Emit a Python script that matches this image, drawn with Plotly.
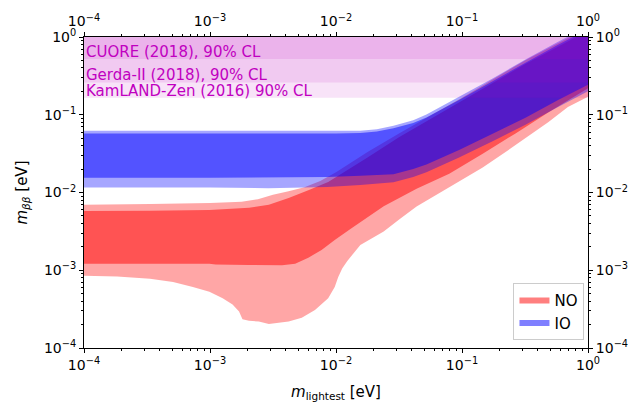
import numpy as np
import plotly.graph_objects as go

# ---------------- data (eV) ----------------
# Normal ordering, wide (light) band
no_wide_lo_x = [1.0e-4, 1.83e-4, 3.34e-4, 5.09e-4, 7.31e-4, 9.89e-4, 1.26e-3, 1.51e-3, 1.70e-3, 1.81e-3,
                2.04e-3, 2.44e-3, 2.93e-3, 4.21e-3, 5.35e-3, 6.81e-3, 8.67e-3, 9.77e-3, 1.04e-2, 1.12e-2,
                1.23e-2, 1.56e-2, 2.39e-2, 3.21e-2, 4.36e-2, 7.92e-2, 0.146, 0.266, 0.483, 0.693, 1.0]
no_wide_lo_y = [8.51e-4, 8.32e-4, 7.76e-4, 7.08e-4, 6.10e-4, 5.28e-4, 4.37e-4, 3.63e-4, 2.95e-4, 2.34e-4,
                2.24e-4, 2.19e-4, 2.04e-4, 2.19e-4, 2.45e-4, 3.09e-4, 4.37e-4, 6.10e-4, 8.13e-4, 1.05e-3,
                1.32e-3, 2.11e-3, 3.16e-3, 4.57e-3, 6.61e-3, 1.17e-2, 2.09e-2, 4.07e-2, 8.0e-2, 0.126, 0.170]
no_wide_hi_x = [1.0e-4, 3.34e-4, 1.0e-3, 1.78e-3, 2.4e-3, 3.16e-3, 4.2e-3, 5.62e-3, 7.5e-3, 1.0e-2,
                1.78e-2, 3.16e-2, 0.1, 0.316, 1.0]
no_wide_hi_y = [6.98e-3, 7.13e-3, 7.33e-3, 7.59e-3, 8.2e-3, 9.33e-3, 1.04e-2, 1.17e-2, 1.41e-2, 1.82e-2,
                3.31e-2, 5.75e-2, 0.166, 0.50, 1.32]

# Normal ordering, narrow (dark) band
no_core_lo_x = [1.0e-4, 9.89e-4, 1.11e-3, 2.04e-3, 3.73e-3, 4.74e-3, 6.03e-3, 7.68e-3, 9.77e-3, 1.31e-2,
                2.39e-2, 4.36e-2, 7.92e-2, 0.146, 0.266, 0.483, 1.0]
no_core_lo_y = [1.21e-3, 1.21e-3, 1.19e-3, 1.17e-3, 1.16e-3, 1.21e-3, 1.45e-3, 1.82e-3, 2.45e-3, 3.41e-3,
                6.65e-3, 1.12e-2, 1.74e-2, 3.16e-2, 5.75e-2, 0.107, 0.219]
no_core_hi_x = [1.0e-4, 3.34e-4, 9.89e-4, 2.04e-3, 2.93e-3, 4.21e-3, 6.03e-3, 8.67e-3, 1.78e-2, 3.16e-2, 0.1, 0.316, 1.0]
no_core_hi_y = [5.77e-3, 5.82e-3, 5.96e-3, 6.35e-3, 6.98e-3, 8.51e-3, 1.07e-2, 1.36e-2, 2.82e-2, 5.13e-2, 0.151, 0.447, 1.20]

# Inverted ordering, wide (light) band
io_wide_hi_x = [1.0e-4, 1.0e-3, 1.0e-2, 1.56e-2, 2.11e-2, 2.86e-2, 4.10e-2, 5.22e-2, 9.48e-2, 0.175, 0.319, 0.579, 1.0]
io_wide_hi_y = [0.0624, 0.0622, 0.0622, 0.0624, 0.0653, 0.0724, 0.0851, 0.1007, 0.170, 0.293, 0.513, 0.867, 1.38]
io_wide_lo_x = [1.0e-4, 1.0e-3, 2.9e-3, 8.55e-3, 1.56e-2, 2.86e-2, 4.10e-2, 5.22e-2, 9.48e-2, 0.175, 0.319, 0.579, 1.0]
io_wide_lo_y = [0.0116, 0.0116, 0.01138, 0.01175, 0.01245, 0.0135, 0.0158, 0.0182, 0.0282, 0.0457, 0.0741, 0.126, 0.200]

# Inverted ordering, narrow (dark) band
io_core_hi_x = [1.0e-4, 1.0e-3, 1.0e-2, 1.56e-2, 2.11e-2, 2.86e-2, 4.10e-2, 5.22e-2, 9.48e-2, 0.175, 0.319, 0.579, 1.0]
io_core_hi_y = [0.0575, 0.0575, 0.0575, 0.0582, 0.0610, 0.0668, 0.0785, 0.0923, 0.155, 0.269, 0.468, 0.794, 1.26]
io_core_lo_x = [1.0e-4, 1.0e-3, 8.55e-3, 1.56e-2, 2.86e-2, 4.10e-2, 5.22e-2, 9.48e-2, 0.175, 0.319, 0.579, 1.0]
io_core_lo_y = [0.01545, 0.01545, 0.01585, 0.0164, 0.0172, 0.0200, 0.0229, 0.0352, 0.0568, 0.0916, 0.155, 0.243]

# Experimental upper limits (90% CL)
limit_names = ["CUORE (2018), 90% CL", "Gerda-II (2018), 90% CL", "KamLAND-Zen (2016) 90% CL"]
limit_values = [0.52, 0.26, 0.165]

x_range = [1e-4, 1.0]
y_range = [1e-4, 1.0]
tick_vals = [1e-4, 1e-3, 1e-2, 1e-1, 1.0]
tick_text = ["10<sup>\u22124</sup>", "10<sup>\u22123</sup>", "10<sup>\u22122</sup>", "10<sup>\u22121</sup>", "10<sup>0</sup>"]
minor_vals = [m * 10.0 ** e for e in range(-4, 0) for m in range(2, 10)]

# ---------------- figure ----------------
fig = go.Figure()


def band(xhi, yhi, xlo, ylo, color, name=None, legend=False):
    xs = list(xhi) + list(xlo)[::-1]
    ys = list(yhi) + list(ylo)[::-1]
    fig.add_trace(go.Scatter(x=xs, y=ys, fill="toself", fillcolor=color, mode="none",
                             name=name, showlegend=legend, hoverinfo="skip"))


band(no_wide_hi_x, no_wide_hi_y, no_wide_lo_x, no_wide_lo_y, "rgba(255,0,0,0.35)")
band(no_core_hi_x, no_core_hi_y, no_core_lo_x, no_core_lo_y, "rgba(255,0,0,0.5)", "NO", True)
band(io_wide_hi_x, io_wide_hi_y, io_wide_lo_x, io_wide_lo_y, "rgba(0,0,255,0.35)")
band(io_core_hi_x, io_core_hi_y, io_core_lo_x, io_core_lo_y, "rgba(0,0,255,0.5)", "IO", True)

for name, val in zip(limit_names, limit_values):
    fig.add_trace(go.Scatter(x=[x_range[0], x_range[1], x_range[1], x_range[0]],
                             y=[val, val, y_range[1], y_range[1]],
                             fill="toself", fillcolor="rgba(191,0,191,0.11)", mode="none",
                             showlegend=False, hoverinfo="skip"))
    fig.add_annotation(x=np.log10(x_range[0]), y=np.log10(val), xref="x", yref="y",
                       text=name, showarrow=False, xanchor="left", yanchor="bottom",
                       xshift=0, yshift=-4, font=dict(size=15, color="#c000c0"))

# dummy trace for top/right axes
fig.add_trace(go.Scatter(x=[1e-2], y=[1e-2], xaxis="x2", yaxis="y2", mode="markers",
                         marker=dict(opacity=0), showlegend=False, hoverinfo="skip"))

font = "DejaVu Sans, Arial, sans-serif"
axis_common = dict(type="log", showgrid=False, zeroline=False, showline=True, linecolor="black",
                   linewidth=1, ticks="outside", ticklen=4, tickwidth=1, tickcolor="black",
                   tickmode="array", tickvals=tick_vals, ticktext=tick_text,
                   tickfont=dict(size=14, color="black", family=font),
                   minor=dict(ticks="outside", ticklen=2, tickwidth=1, tickcolor="black",
                              tickmode="array", tickvals=minor_vals, showgrid=False))

fig.update_layout(
    width=640, height=409,
    margin=dict(l=84, r=47, t=32, b=56),
    paper_bgcolor="white", plot_bgcolor="white",
    font=dict(family=font, size=15, color="black"),
    xaxis=dict(range=[-4, 0], title=dict(text="<i>m</i><sub>lightest</sub> [eV]", standoff=14,
                                          font=dict(size=15)), **axis_common),
    yaxis=dict(range=[-4, 0], title=dict(text="<i>m</i><sub><i>\u03b2\u03b2</i></sub> [eV]", standoff=12,
                                          font=dict(size=15)), **axis_common),
    xaxis2=dict(range=[-4, 0], overlaying="x", side="top", anchor="y", **axis_common),
    yaxis2=dict(range=[-4, 0], overlaying="y", side="right", anchor="x", **axis_common),
    legend=dict(x=0.993, y=0.025, xanchor="right", yanchor="bottom", bgcolor="white",
                bordercolor="#cccccc", borderwidth=1, font=dict(size=15)),
    showlegend=True,
)

fig.write_html("out.html")
